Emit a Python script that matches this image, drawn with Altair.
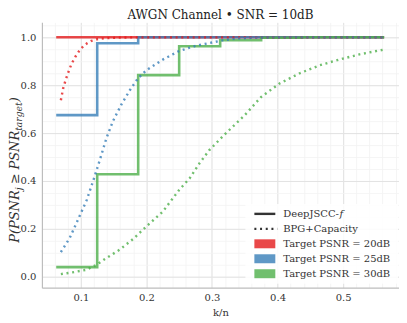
import altair as alt
import pandas as pd
import glob
import struct

# ---------------- data ----------------
targets = ["Target PSNR = 20dB", "Target PSNR = 25dB", "Target PSNR = 30dB"]
colors = ["#e41a1c", "#377eb8", "#4daf4a"]

# DeepJSCC-f (step curves)
deep_x = [0.0625, 0.125, 0.1875, 0.25, 0.3125, 0.375, 0.4375, 0.5, 0.5625]
deep_20 = [1.0, 1.0, 1.0, 1.0, 1.0, 1.0, 1.0, 1.0, 1.0]
deep_25 = [0.675, 0.975, 1.0, 1.0, 1.0, 1.0, 1.0, 1.0, 1.0]
deep_30 = [0.04, 0.428, 0.842, 0.9625, 0.9875, 0.998, 1.0, 1.0, 1.0]

# BPG + Capacity (dotted curves)
bpg20_x = [0.0696, 0.073, 0.077, 0.082, 0.086, 0.092, 0.0975, 0.1035, 0.11, 0.116,
           0.126, 0.14, 0.16, 0.18, 0.2, 0.3, 0.4, 0.5, 0.5625]
bpg20_y = [0.7375, 0.786, 0.823, 0.862, 0.89, 0.92, 0.943, 0.962, 0.976, 0.985,
           0.993, 0.997, 0.999, 1.0, 1.0, 1.0, 1.0, 1.0, 1.0]
bpg25_x = [0.0696, 0.083, 0.096, 0.109, 0.12, 0.129, 0.139, 0.149, 0.162, 0.175,
           0.187, 0.2, 0.225, 0.25, 0.276, 0.296, 0.316, 0.34, 0.37, 0.4, 0.5, 0.5625]
bpg25_y = [0.103, 0.161, 0.24, 0.32, 0.41, 0.4875, 0.578, 0.65, 0.72, 0.78,
           0.828, 0.8625, 0.907, 0.943, 0.965, 0.976, 0.9875, 0.995, 0.999, 1.0, 1.0, 1.0]
bpg30_x = [0.0696, 0.087, 0.1087, 0.124, 0.139, 0.159, 0.18, 0.2, 0.225, 0.25,
           0.266, 0.281, 0.296, 0.32, 0.35, 0.375, 0.403, 0.433, 0.464, 0.494, 0.525, 0.5625]
bpg30_y = [0.011, 0.018, 0.029, 0.05, 0.078, 0.1125, 0.158, 0.21, 0.272, 0.3625,
           0.411, 0.474, 0.529, 0.596, 0.675, 0.751, 0.807, 0.849, 0.883, 0.907, 0.929, 0.949]

x_major = [0.1, 0.2, 0.3, 0.4, 0.5]
x_minor = [0.06, 0.08, 0.10, 0.12, 0.14, 0.16, 0.18, 0.20, 0.22, 0.24, 0.26, 0.28,
           0.30, 0.32, 0.34, 0.36, 0.38, 0.40, 0.42, 0.44, 0.46, 0.48, 0.50, 0.52,
           0.54, 0.56, 0.58]
y_major = [0.0, 0.2, 0.4, 0.6, 0.8, 1.0]
y_minor = [0.0, 0.05, 0.1, 0.15, 0.2, 0.25, 0.3, 0.35, 0.4, 0.45, 0.5, 0.55, 0.6,
           0.65, 0.7, 0.75, 0.8, 0.85, 0.9, 0.95, 1.0, 1.05]

legend_methods = ["DeepJSCC-", "BPG+Capacity"]


# ---------------- text measuring (for placing mixed-style text pieces) ----------------
def load_widths(name):
    paths = glob.glob("/usr/share/fonts/**/" + name, recursive=True)
    if not paths:
        return None
    try:
        data = open(paths[0], "rb").read()
        n = struct.unpack(">H", data[4:6])[0]
        tables = {}
        for i in range(n):
            tag, _, off, ln = struct.unpack(">4sIII", data[12 + 16 * i:28 + 16 * i])
            tables[tag.decode("latin1")] = off
        upem = struct.unpack(">H", data[tables["head"] + 18:tables["head"] + 20])[0]
        nhm = struct.unpack(">H", data[tables["hhea"] + 34:tables["hhea"] + 36])[0]
        ho = tables["hmtx"]
        adv = [struct.unpack(">H", data[ho + 4 * i:ho + 4 * i + 2])[0] for i in range(nhm)]
        co = tables["cmap"]
        nsub = struct.unpack(">H", data[co + 2:co + 4])[0]
        for i in range(nsub):
            pid, eid, soff = struct.unpack(">HHI", data[co + 4 + 8 * i:co + 12 + 8 * i])
            st = co + soff
            fmt = struct.unpack(">H", data[st:st + 2])[0]
            if fmt != 4:
                continue
            s2 = struct.unpack(">H", data[st + 6:st + 8])[0]
            seg = s2 // 2
            ends = struct.unpack(">%dH" % seg, data[st + 14:st + 14 + s2])
            starts = struct.unpack(">%dH" % seg, data[st + 16 + s2:st + 16 + 2 * s2])
            deltas = struct.unpack(">%dh" % seg, data[st + 16 + 2 * s2:st + 16 + 3 * s2])
            rpos = st + 16 + 3 * s2
            roffs = struct.unpack(">%dH" % seg, data[rpos:rpos + s2])

            def gid(c, ends=ends, starts=starts, deltas=deltas, roffs=roffs, rpos=rpos):
                for k in range(seg):
                    if ends[k] >= c:
                        if starts[k] > c:
                            return 0
                        if roffs[k] == 0:
                            return (c + deltas[k]) & 0xFFFF
                        p = rpos + 2 * k + roffs[k] + 2 * (c - starts[k])
                        g = struct.unpack(">H", data[p:p + 2])[0]
                        return (g + deltas[k]) & 0xFFFF if g else 0
                return 0

            def width(s, size):
                tot = 0
                for ch in s:
                    g = gid(ord(ch))
                    tot += adv[min(g, nhm - 1)]
                return tot / upem * size
            return width
    except Exception:
        return None
    return None


w_it = load_widths("DejaVuSerif-Italic.ttf") or (lambda s, size: 0.68 * len(s) * size)
w_rg = load_widths("DejaVuSerif.ttf") or (lambda s, size: 0.62 * len(s) * size)

# ---------------- tables ----------------
solid_rows = []
for t, ys in zip(targets, [deep_20, deep_25, deep_30]):
    for xv, yv in zip(deep_x, ys):
        solid_rows.append({"x": xv, "y": yv, "target": t})
df_solid = pd.DataFrame(solid_rows)

dot_rows = []
for t, xs_, ys in zip(targets, [bpg20_x, bpg25_x, bpg30_x], [bpg20_y, bpg25_y, bpg30_y]):
    for xv, yv in zip(xs_, ys):
        dot_rows.append({"x": xv, "y": yv, "target": t})
df_dot = pd.DataFrame(dot_rows)

W, H = 358, 266
FONT = "DejaVu Serif"
xs = alt.Scale(domain=[0.0407, 0.5852], nice=False, zero=False)
ys_ = alt.Scale(domain=[-0.0458, 1.0625], nice=False, zero=False)
cs = alt.Scale(domain=targets, range=colors)

# minor grid layer
minor = alt.Chart(df_solid).mark_line(opacity=0).encode(
    x=alt.X("x:Q", scale=xs, axis=alt.Axis(orient="top", values=x_minor, grid=True,
            gridColor="#f2f2f2", gridWidth=0.8, labels=False, ticks=False,
            domain=False, title=None)),
    y=alt.Y("y:Q", scale=ys_, axis=alt.Axis(orient="right", values=y_minor, grid=True,
            gridColor="#f2f2f2", gridWidth=0.8, labels=False, ticks=False,
            domain=False, title=None)),
)

solid = alt.Chart(df_solid).mark_line(interpolate="step-after", strokeWidth=2.6,
                                      opacity=0.8).encode(
    x=alt.X("x:Q", scale=xs, axis=alt.Axis(orient="bottom", values=x_major, format=".1f",
            grid=True, gridColor="#e2e2e2", gridWidth=1, ticks=False, labelPadding=5,
            domainColor="#bdbdbd", domainWidth=1.2, labelFont=FONT, labelFontSize=10,
            labelColor="#333", title="k/n", titleFont=FONT, titleFontSize=10,
            titleFontWeight="normal", titleColor="#333", titlePadding=5)),
    y=alt.Y("y:Q", scale=ys_, axis=alt.Axis(orient="left", values=y_major, format=".1f",
            grid=True, gridColor="#e2e2e2", gridWidth=1, ticks=False, labelPadding=6,
            domainColor="#bdbdbd", domainWidth=1.2, labelFont=FONT, labelFontSize=10,
            labelColor="#333", title=None)),
    color=alt.Color("target:N", scale=cs, legend=None),
)

dotted = alt.Chart(df_dot).mark_line(strokeDash=[2, 3.7], strokeWidth=2.4,
                                     opacity=0.8).encode(
    x=alt.X("x:Q", scale=xs, axis=None),
    y=alt.Y("y:Q", scale=ys_, axis=None),
    color=alt.Color("target:N", scale=cs, legend=None),
)

one = pd.DataFrame({"k": [0]})


def txt(s, x, y, size=10, style="normal", angle=0, align="left", baseline="middle",
        color="#333"):
    kw = dict(text=s, font=FONT, fontSize=size, fontStyle=style, align=align,
              baseline=baseline, color=color)
    if angle:
        kw["angle"] = angle
    return alt.Chart(one).mark_text(**kw).encode(x=alt.value(x), y=alt.value(y))


layers = [minor, solid, dotted]

# legend
layers.append(alt.Chart(one).mark_rect(color="white", opacity=0.85).encode(
    x=alt.value(204), x2=alt.value(357), y=alt.value(182), y2=alt.value(262)))
rows = [192, 207, 222, 237, 252]
sx0, sx1, tx = 213, 234, 242
layers.append(alt.Chart(one).mark_rule(color="#333", strokeWidth=2.4).encode(
    x=alt.value(sx0), x2=alt.value(sx1), y=alt.value(rows[0])))
layers.append(alt.Chart(one).mark_rule(color="#333", strokeWidth=2.4,
                                       strokeDash=[2, 3.7]).encode(
    x=alt.value(sx0), x2=alt.value(sx1 + 2), y=alt.value(rows[1])))
for r, c in zip(rows[2:], colors):
    layers.append(alt.Chart(one).mark_rect(color=c, opacity=0.8).encode(
        x=alt.value(sx0), x2=alt.value(sx1), y=alt.value(r - 4.5), y2=alt.value(r + 4.5)))
layers.append(txt(legend_methods[0], tx, rows[0]))
layers.append(txt("f", tx + w_rg(legend_methods[0], 10) + 0.5, rows[0], style="italic"))
layers.append(txt(legend_methods[1], tx, rows[1]))
for r, t in zip(rows[2:], targets):
    layers.append(txt(t, tx, r))

# y-axis title: P(PSNR_j >= PSNR_target), drawn as rotated pieces
fs, ss = 13, 9.2
base_x, sub_x = -22.5, -19.5
pieces = [("P(PSNR", fs, base_x), ("j", ss, sub_x), ("\u2265", fs, base_x),
          ("PSNR", fs, base_x), ("target", ss, sub_x), (")", fs, base_x)]
widths = [w_it(s, size) for s, size, _ in pieces]
widths[1] += 3.5   # space before the relation sign
widths[2] += 3.5   # space after the relation sign
total = sum(widths)
ypos = 148 + total / 2
for (s, size, xx), w in zip(pieces, widths):
    layers.append(txt(s, xx, ypos, size=size, style="italic", angle=270,
                      align="left", baseline="alphabetic"))
    ypos -= w

chart = alt.layer(*layers).resolve_axis(x="independent", y="independent").properties(
    width=W, height=H,
    title=alt.TitleParams("AWGN Channel \u2022 SNR = 10dB", font=FONT, fontSize=12,
                          fontWeight="normal", color="#222", anchor="middle",
                          offset=5, dy=5),
    autosize=alt.AutoSizeParams(type="none"),
    padding={"left": 34, "top": 14, "right": 0, "bottom": 34},
).configure_view(stroke=None)

chart.save("out.html", embed_options={"renderer": "svg", "actions": False})
